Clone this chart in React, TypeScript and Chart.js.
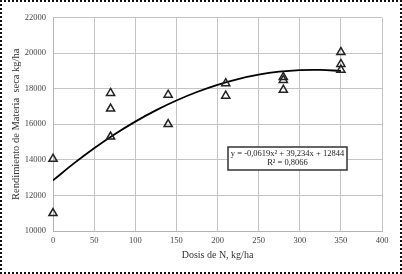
import React, { useEffect, useRef } from "react";
import { Chart, registerables } from "chart.js";

Chart.register(...registerables);

const doseX: number[] = [0, 0, 70, 70, 70, 140, 140, 210, 210, 280, 280, 280, 350, 350, 350];
const yieldY: number[] = [14050, 11000, 17750, 16870, 15300, 17650, 16000, 18300, 17600, 18650, 18480, 17930, 20050, 19380, 19060];

const trendX: number[] = [0, 25, 50, 75, 100, 125, 150, 175, 200, 225, 250, 275, 300, 325, 350];
const trendY: number[] = [12844, 13786, 14651, 15438, 16148, 16781, 17336, 17814, 18215, 18538, 18784, 18952, 19043, 19057, 18993];

const equationLines: string[] = ["y = -0,0619x\u00b2 + 39,234x + 12844", "R\u00b2 = 0,8066"];
const xTitle = "Dosis de N, kg/ha";
const yTitle = "Rendimiento de Materia  seca kg/ha";

const FONT = "'Liberation Serif', 'Times New Roman', serif";

const equationPlugin = {
  id: "equationBox",
  afterDatasetsDraw(chart: any) {
    const { ctx, chartArea } = chart;
    const left = chartArea.left + 175;
    const top = chartArea.top + 129.5;
    const w = 119;
    const h = 23;
    ctx.save();
    ctx.fillStyle = "#ffffff";
    ctx.fillRect(left, top, w, h);
    ctx.strokeStyle = "#333333";
    ctx.lineWidth = 1.5;
    ctx.strokeRect(left, top, w, h);
    ctx.fillStyle = "#222222";
    ctx.font = `8.5px ${FONT}`;
    ctx.textAlign = "center";
    ctx.textBaseline = "middle";
    ctx.fillText(equationLines[0], left + w / 2, top + 6.5);
    ctx.fillText(equationLines[1], left + w / 2, top + 16);
    ctx.restore();
  },
};

export default function App() {
  const canvasRef = useRef<HTMLCanvasElement | null>(null);

  useEffect(() => {
    const canvas = canvasRef.current;
    if (!canvas) return;
    const chart = new Chart(canvas, {
      type: "scatter",
      data: {
        datasets: [
          {
            label: "trend",
            type: "line",
            data: trendX.map((x, i) => ({ x, y: trendY[i] })),
            borderColor: "#000000",
            borderWidth: 1.8,
            pointRadius: 0,
            tension: 0.4,
            fill: false,
            order: 2,
          } as any,
          {
            label: "data",
            data: doseX.map((x, i) => ({ x, y: yieldY[i] })),
            pointStyle: "triangle",
            pointRadius: 4.7,
            borderColor: "#222222",
            borderWidth: 1.5,
            backgroundColor: "rgba(255,255,255,0)",
            clip: false,
            order: 1,
          } as any,
        ],
      },
      options: {
        animation: false,
        responsive: false,
        events: [],
        layout: { padding: { top: 17.5, right: 20, left: 0, bottom: 0 } },
        plugins: { legend: { display: false }, tooltip: { enabled: false } },
        scales: {
          x: {
            type: "linear",
            min: 0,
            max: 400,
            border: { display: true, color: "#b4b4b4", width: 1 },
            grid: { color: "#c4c4c4", lineWidth: 1, drawTicks: false },
            ticks: {
              stepSize: 50,
              padding: 5,
              color: "#444444",
              font: { family: FONT, size: 8.5 },
              callback: (v: any) => String(v),
            },
            title: {
              display: true,
              text: xTitle,
              color: "#333333",
              font: { family: FONT, size: 10 },
              padding: { top: 0, bottom: 13 },
            },
            afterFit: (scale: any) => {
              scale.height = 43;
            },
          },
          y: {
            type: "linear",
            min: 10000,
            max: 22000,
            border: { display: true, color: "#b4b4b4", width: 1 },
            grid: { color: "#c4c4c4", lineWidth: 1, drawTicks: false },
            ticks: {
              stepSize: 2000,
              padding: 7,
              color: "#444444",
              font: { family: FONT, size: 8.5 },
              callback: (v: any) => String(v),
            },
            title: {
              display: true,
              text: yTitle,
              color: "#333333",
              font: { family: FONT, size: 10.5 },
              padding: { top: 9.5, bottom: 0 },
            },
            afterFit: (scale: any) => {
              scale.width = 53;
            },
          },
        },
      },
      plugins: [equationPlugin],
    });
    return () => chart.destroy();
  }, []);

  return (
    <div style={{ position: "fixed", left: 0, top: 0, width: 402, height: 274, background: "#ffffff" }}>
      <canvas ref={canvasRef} width={402} height={274} style={{ display: "block", width: 402, height: 274 }} />
      <div
        style={{
          position: "absolute",
          left: 0,
          top: 0,
          width: 402,
          height: 274,
          boxSizing: "border-box",
          border: "2px dotted #111111",
          pointerEvents: "none",
        }}
      />
    </div>
  );
}
